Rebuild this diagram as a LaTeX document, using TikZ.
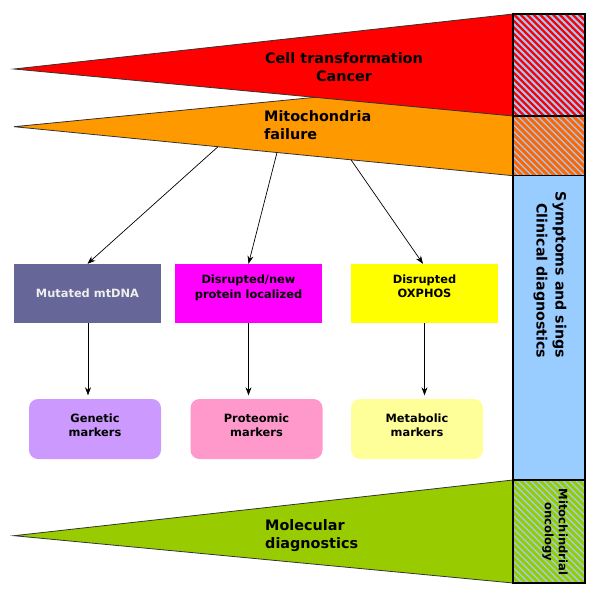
\documentclass[tikz,border=0pt]{standalone}
\usepackage{fontspec}
\setmainfont{DejaVu Sans}
\usetikzlibrary{arrows.meta}
\definecolor{cred}{HTML}{FF0000}
\definecolor{corange}{HTML}{FF9900}
\definecolor{cstripe}{HTML}{FF6600}
\definecolor{cgreen}{HTML}{99CC00}
\definecolor{cblue}{HTML}{99CCFF}
\definecolor{cslate}{HTML}{666699}
\definecolor{cmag}{HTML}{FF00FF}
\definecolor{cyel}{HTML}{FFFF00}
\definecolor{clav}{HTML}{CC99FF}
\definecolor{cpink}{HTML}{FF99CC}
\definecolor{clyel}{HTML}{FFFF99}
\definecolor{ctxt}{HTML}{EEEEEE}
\tikzset{
  wedge/.style={draw=black!80, line width=0.8pt},
  colbox/.style={draw=black, line width=1.2pt},
  bigtext/.style={inner sep=0pt, font=\fontsize{14.4}{18}\selectfont\bfseries},
  smalltext/.style={inner sep=0pt, align=center, font=\fontsize{11.4}{14.5}\selectfont\bfseries},
  sqbox/.style={rectangle, inner sep=0pt, minimum width=147pt, minimum height=59pt},
  rbox/.style={rectangle, rounded corners=9pt, inner sep=0pt, minimum width=132pt, minimum height=60pt},
  arr/.style={line width=0.7pt, -{Stealth[length=8pt,width=6pt]}},
}
\begin{document}
\begin{tikzpicture}[x=1pt, y=-1pt]
\useasboundingbox (0,0) rectangle (597,596);
% wedges
\draw[wedge, fill=corange] (14,126.7) -- (513,78) -- (513,175.7) -- cycle;
\draw[wedge, fill=cred] (14,69) -- (513,14) -- (513,116) -- cycle;
\draw[wedge, fill=cgreen] (14,535.7) -- (513,480) -- (513,583) -- cycle;
% right column
\fill[cblue] (513,14) rectangle (585,583);
\begin{scope}
\clip (513,14) rectangle (585,116);
\foreach \i in {-110,-103.5,...,80} \draw[cred, line width=2.3pt] (513+\i,14) -- ++(110,110);
\end{scope}
\begin{scope}
\clip (513,116) rectangle (585,175.7);
\foreach \i in {-70,-63.5,...,80} \draw[cstripe, line width=3pt] (513+\i,116) -- ++(70,70);
\end{scope}
\begin{scope}
\clip (513,480) rectangle (585,583);
\foreach \i in {-110,-103.5,...,80} \draw[cgreen, line width=3pt] (513+\i,480) -- ++(110,110);
\end{scope}
\draw[colbox] (513,14) rectangle (585,116);
\draw[colbox] (513,116) rectangle (585,175.7);
\draw[colbox] (513,175.7) rectangle (585,480);
\draw[colbox] (513,480) rectangle (585,583);
% wedge texts
\node[bigtext, align=center] (cell) at (344,67.5) {Cell transformation\\Cancer};
\node[bigtext, align=left, anchor=west] (mito) at (264,125.5) {Mitochondria\\failure};
\node[bigtext, align=left, anchor=west] (mol) at (265,535.7) {Molecular\\diagnostics};
\node[bigtext, align=right, rotate=-90, font=\fontsize{14.2}{19}\selectfont\bfseries] (symp) at (550,275) {Symptoms and sings\\Clinical diagnostics};
\node[smalltext, rotate=-90, font=\fontsize{11.6}{14}\selectfont\bfseries] (onc) at (555,532) {Mitochindrial\\oncology};
% boxes
\node[sqbox, fill=cslate] (mt) at (87.5,293.5) {};
\node[sqbox, fill=cmag] (mag) at (248.5,293.5) {};
\node[sqbox, fill=cyel] (yel) at (424.5,293.5) {};
\node[smalltext, text=ctxt] (mtt) at (mt.center) {Mutated mtDNA};
\node[smalltext] (magt) at (248.5,288) {Disrupted/new\\protein localized};
\node[smalltext] (yelt) at (424.5,286) {Disrupted\\OXPHOS};
\node[rbox, fill=clav] (gen) at (95,429) {};
\node[rbox, fill=cpink] (prot) at (256.5,429) {};
\node[rbox, fill=clyel] (met) at (417,429) {};
\node[smalltext] (gent) at (95,425) {Genetic\\markers};
\node[smalltext] (prott) at (256.5,425) {Proteomic\\markers};
\node[smalltext] (mett) at (417,425) {Metabolic\\markers};
% arrows
\coordinate (s1) at (218,146.7);
\coordinate (s2) at (277,152.5);
\coordinate (s3) at (351,159.8);
\draw[arr] (s1) -- (mt.north);
\draw[arr] (s2) -- (mag.north);
\draw[arr] (s3) -- ([xshift=-1.5pt]yel.north);
\draw[arr, shorten >=3.5pt] ([xshift=0.5pt]mt.south) -- ([xshift=0.5pt]mt.south |- gen.north);
\draw[arr, shorten >=3.5pt] (mag.south) -- (mag.south |- prot.north);
\draw[arr, shorten >=3.5pt] (yel.south) -- (yel.south |- met.north);
\end{tikzpicture}
\end{document}
